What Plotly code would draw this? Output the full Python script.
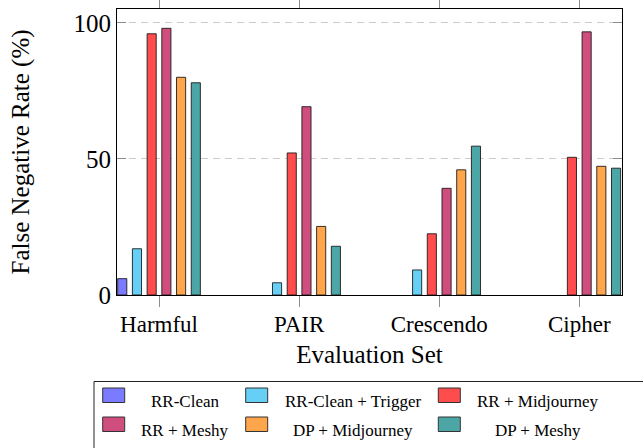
import plotly.graph_objects as go

# ---- data ----
categories = ["Harmful", "PAIR", "Crescendo", "Cipher"]
series_names = ["RR-Clean", "RR-Clean + Trigger", "RR + Midjourney",
                "RR + Meshy", "DP + Midjourney", "DP + Meshy"]
# None = no bar shown in the reference
rr_clean = [6, None, None, None]
rr_clean_trigger = [17, 4.5, 9.2, None]
rr_midjourney = [96, 52.2, 22.5, 50.6]
rr_meshy = [98, 69.2, 39.2, 96.7]
dp_midjourney = [80, 25.2, 46, 47.3]
dp_meshy = [78, 17.9, 54.7, 46.6]
series_values = [rr_clean, rr_clean_trigger, rr_midjourney,
                 rr_meshy, dp_midjourney, dp_meshy]
y_ticks = [0, 50, 100]

colors = ["#7b7bff", "#66cff5", "#ff4d4d", "#d04e7d", "#ffa64d", "#4ca6a6"]
FONT = "Liberation Serif, Times New Roman, Times, serif"

W, H = 643, 448
L, R, T, B = 117, 21, 9, 153
PW, PH = W - L - R, H - T - B


def px(xp):
    return (xp - L) / PW


def py(yp):
    return (H - B - yp) / PH


fig = go.Figure()
for name, vals, col in zip(series_names, series_values, colors):
    fig.add_trace(go.Bar(
        x=categories, y=vals, name=name, showlegend=False,
        marker=dict(color=col, line=dict(color="rgba(20,20,20,0.85)", width=1)),
    ))

# manual legend (3 columns x 2 rows, centred labels)
shapes = [dict(type="rect", xref="paper", yref="paper",
               x0=px(94), x1=px(700), y0=py(470), y1=py(381.5),
               line=dict(color="#222", width=1), fillcolor="rgba(0,0,0,0)")]
annotations = []
sw_x = [102.7, 245.7, 438.3]
txt_x = [184.7, 352.7, 538.2]
sw_y = [(388, 402.5), (417, 431.5)]
txt_y = [401.5, 430]
for i, (name, col) in enumerate(zip(series_names, colors)):
    r, c = divmod(i, 3)
    shapes.append(dict(type="rect", xref="paper", yref="paper",
                       x0=px(sw_x[c]), x1=px(sw_x[c] + 22),
                       y0=py(sw_y[r][1]), y1=py(sw_y[r][0]),
                       line=dict(color="#333", width=1), fillcolor=col))
    annotations.append(dict(xref="paper", yref="paper", x=px(txt_x[c]), y=py(txt_y[r]),
                            text=name, showarrow=False, xanchor="center", yanchor="middle",
                            font=dict(family=FONT, size=17, color="black")))

fig.update_layout(
    width=W, height=H,
    margin=dict(l=L, r=R, t=T, b=B, pad=0, autoexpand=False),
    paper_bgcolor="white", plot_bgcolor="white",
    barmode="group", bargap=0.37, bargroupgap=0.38,
    font=dict(family=FONT, color="black"),
    shapes=shapes, annotations=annotations,
    xaxis=dict(
        type="category", categoryorder="array", categoryarray=categories,
        range=[-0.3, 3.305], automargin=False,
        showline=True, linecolor="black", linewidth=1, mirror="allticks",
        ticks="outside", ticklen=11, tickcolor="#8c8c8c", tickwidth=1,
        tickfont=dict(family=FONT, size=23), ticklabelstandoff=-3,
        title=dict(text="Evaluation Set", font=dict(family=FONT, size=25), standoff=9),
        showgrid=False,
    ),
    yaxis=dict(
        range=[0, 105.1], tickvals=y_ticks, ticktext=[str(v) for v in y_ticks],
        automargin=False,
        showline=True, linecolor="black", linewidth=1, mirror="allticks",
        ticks="inside", ticklen=9, tickcolor="#8c8c8c", tickwidth=1,
        tickfont=dict(family=FONT, size=25),
        showgrid=True, gridcolor="#cccccc", gridwidth=1, griddash="7px,5px",
        zeroline=False,
        title=dict(text="False Negative Rate (%)", font=dict(family=FONT, size=25), standoff=36),
    ),
)

fig.write_html("out.html", config={"displayModeBar": False},
               post_script="document.body.style.margin='0';")
